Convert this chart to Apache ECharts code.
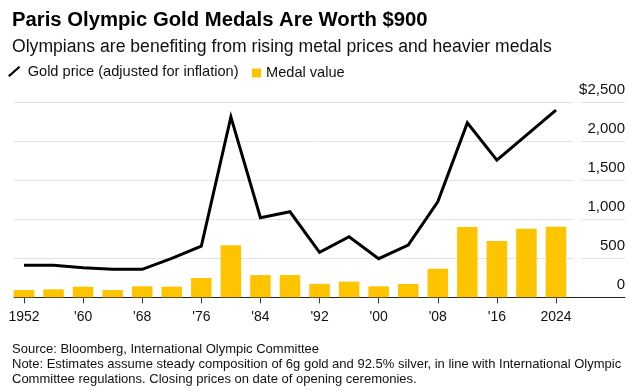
<!DOCTYPE html>
<html>
<head>
<meta charset="utf-8">
<script src="https://cdn.jsdelivr.net/npm/echarts@6/dist/echarts.min.js"></script>
<style>
html,body{margin:0;padding:0;background:#fff;}
#chart{width:636px;height:391px;}
</style>
</head>
<body>
<div id="chart"></div>
<script>
const years = [1952,1956,1960,1964,1968,1972,1976,1980,1984,1988,1992,1996,2000,2004,2008,2012,2016,2020,2024];
const goldPrice = [409,409,379,358,358,499,656,2310,1018,1095,575,775,494,669,1223,2233,1756,2076,2396];
const medalValue = [93,102,136,93,141,136,247,665,285,285,172,200,141,170,366,899,720,877,903];
const tickYears = [1952,1960,1968,1976,1984,1992,2000,2008,2016,2024];
const tickLabels = ['1952',"'60","'68","'76","'84","'92","'00","'08","'16",'2024'];
const yTicks = [0,500,1000,1500,2000,2500];
const yTickLabels = ['0','500','1,000','1,500','2,000','$2,500'];

const FONT = '"Liberation Sans", Arial, sans-serif';
const chart = echarts.init(document.getElementById('chart'), null, {renderer:'canvas'});

const option = {
  animation: false,
  backgroundColor: '#fff',
  textStyle: {fontFamily: FONT},
  title: [
    {text: 'Paris Olympic Gold Medals Are Worth $900', left: 7, top: 5,
     textStyle: {fontFamily: FONT, fontSize: 20.3, fontWeight: 'bold', color: '#000'}},
    {text: 'Olympians are benefiting from rising metal prices and heavier medals', left: 7, top: 33,
     textStyle: {fontFamily: FONT, fontSize: 17.6, fontWeight: 'normal', color: '#111'}},
    {text: 'Source: Bloomberg, International Olympic Committee\nNote: Estimates assume steady composition of 6g gold and 92.5% silver, in line with International Olympic\nCommittee regulations. Closing prices on date of opening ceremonies.',
     left: 7, top: 337,
     textStyle: {fontFamily: FONT, fontSize: 13, fontWeight: 'normal', color: '#111', lineHeight: 14.8}}
  ],
  legend: [
    {left: 8, top: 64, padding: 0, itemWidth: 13, itemHeight: 11, selectedMode: false,
     data: [{name: 'Gold price (adjusted for inflation)', icon: 'path://M0,10 L1.6,11.6 L13,1.6 L11.4,0 Z'}],
     textStyle: {fontFamily: FONT, fontSize: 14.6, color: '#111', padding: [0,0,0,2]}},
    {left: 252, top: 65.5, padding: 0, itemWidth: 9, itemHeight: 9, selectedMode: false,
     data: [{name: 'Medal value', icon: 'rect'}],
     textStyle: {fontFamily: FONT, fontSize: 14.6, color: '#111', padding: [0,0,0,0]}}
  ],
  grid: {left: 14, right: 11, top: 102, bottom: 93.7, containLabel: false},
  xAxis: {
    type: 'value', min: 1950.647, max: 2033.34,
    splitLine: {show: false},
    axisLine: {show: true, lineStyle: {color: '#222', width: 1}},
    axisTick: {show: true, length: 6, lineStyle: {color: '#333'}, customValues: tickYears},
    axisLabel: {show: true, customValues: tickYears, margin: 13,
      fontFamily: FONT, fontSize: 14, color: '#111',
      formatter: function(v){ const i = tickYears.indexOf(Math.round(v)); return i >= 0 ? tickLabels[i] : ''; }}
  },
  yAxis: {
    type: 'value', min: 0, max: 2500, interval: 500, position: 'right',
    axisLine: {show: false}, axisTick: {show: false},
    splitLine: {show: true, lineStyle: {color: '#e2e2e2', width: 1}},
    axisLabel: {inside: true, margin: 0, verticalAlign: 'bottom', align: 'right',
      padding: [0,0,5,0],
      fontFamily: FONT, fontSize: 15, color: '#111',
      formatter: function(v){ const i = yTicks.indexOf(v); return i >= 0 ? yTickLabels[i] : ''; }}
  },
  graphic: [
    {type: 'rect', z: 50, shape: {x: 573.5, y: 95, width: 7.5, height: 201}, style: {fill: '#fff'}, silent: true}
  ],
  series: [
    {name: 'Medal value', type: 'bar', barWidth: 20.5,
     itemStyle: {color: '#ffc400'},
     data: years.map((y, i) => [y, medalValue[i]]), z: 2},
    {name: 'Gold price (adjusted for inflation)', type: 'line', symbol: 'none',
     itemStyle: {color: '#000'},
     lineStyle: {color: '#000', width: 3, join: 'miter'},
     data: years.map((y, i) => [y, goldPrice[i]]), z: 3}
  ]
};
chart.setOption(option);
</script>
</body>
</html>
